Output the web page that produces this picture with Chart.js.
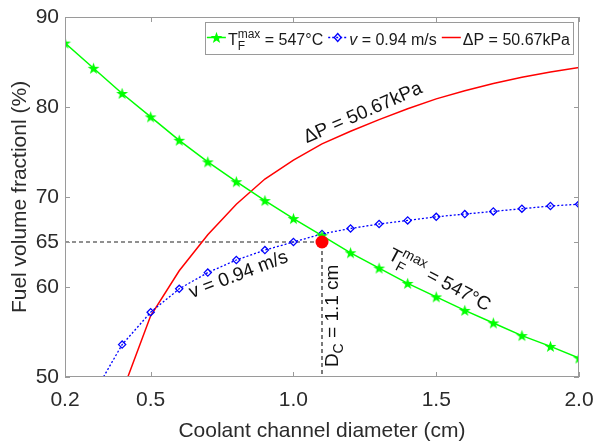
<!DOCTYPE html>
<html>
<head>
<meta charset="utf-8">
<script src="https://cdn.jsdelivr.net/npm/chart.js@4.4.0/dist/chart.umd.min.js"></script>
<style>
    html, body { margin: 0; padding: 0; background: #fff; }
</style>
</head>
<body>
<canvas id="fuelChart" width="595" height="444"></canvas>
<script>
// Datos
const diameters = [0.2, 0.3, 0.4, 0.5, 0.6, 0.7, 0.8, 0.9, 1.0, 1.1, 1.2, 1.3, 1.4, 1.5, 1.6, 1.7, 1.8, 1.9, 2.0];
const tempFrac = [87.1, 84.3, 81.5, 78.9, 76.3, 73.9, 71.7, 69.6, 67.6, 65.7, 63.8, 62.1, 60.4, 58.9, 57.4, 56.0, 54.6, 53.4, 52.1];

const velDiam = [0.3, 0.4, 0.5, 0.6, 0.7, 0.8, 0.9, 1.0, 1.1, 1.2, 1.3, 1.4, 1.5, 1.6, 1.7, 1.8, 1.9, 2.0];
const velFrac = [48.1, 53.6, 57.2, 59.8, 61.6, 63.0, 64.1, 65.0, 65.9, 66.5, 67.0, 67.4, 67.8, 68.1, 68.4, 68.7, 69.0, 69.2];

const dpDiam = [0.4, 0.5, 0.6, 0.7, 0.8, 0.9, 1.0, 1.1, 1.2, 1.3, 1.4, 1.5, 1.6, 1.7, 1.8, 1.9, 2.0];
const dpFrac = [48.3, 56.8, 61.8, 65.8, 69.2, 72.0, 74.1, 75.9, 77.3, 78.6, 79.8, 80.9, 81.8, 82.6, 83.3, 83.9, 84.4];

// punto de diseño y líneas guía
const refX = [0.2, 1.1, 1.1];
const refY = [65, 65, 50];
const designX = [1.1];
const designY = [65];

const xTicks = [0.2, 0.5, 1.0, 1.5, 2.0];
const yTicks = [50, 60, 65, 70, 80, 90];

const FONT = '"Liberation Sans", Arial, Helvetica, sans-serif';
const TXT = '#2b2b2b';
const FRAME = '#9a9a9a';

function pts(xs, ys) {
    return xs.map((x, i) => ({ x: x, y: ys[i] }));
}

// estrella rellena estilo MATLAB (pentagram)
function makeStar(size, color) {
    const c = document.createElement('canvas');
    c.width = c.height = size;
    const g = c.getContext('2d');
    const cx = size / 2, cy = size / 2 + 0.5;
    const R = size / 2 - 0.3, r = R * 0.4;
    g.beginPath();
    for (let i = 0; i < 10; i++) {
        const a = -Math.PI / 2 + i * Math.PI / 5;
        const rad = i % 2 === 0 ? R : r;
        g.lineTo(cx + rad * Math.cos(a), cy + rad * Math.sin(a));
    }
    g.closePath();
    g.fillStyle = color;
    g.fill();
    return c;
}
const starImg = makeStar(13, '#00ff00');

// texto con sub/superíndices
function richText(ctx, x, y, angle, parts, draw) {
    ctx.save();
    ctx.translate(x, y);
    ctx.rotate(angle);
    ctx.textAlign = 'left';
    ctx.textBaseline = 'alphabetic';
    let cx = 0, pend = 0;
    parts.forEach(p => {
        ctx.font = (p.italic ? 'italic ' : '') + p.s + 'px ' + FONT;
        if (draw) ctx.fillText(p.t, cx, p.dy || 0);
        const w = ctx.measureText(p.t).width;
        if (p.stack) {
            pend = w;
        } else {
            cx += Math.max(w, pend);
            pend = 0;
        }
    });
    ctx.restore();
    return cx;
}

const overlay = {
    id: 'overlay',
    afterDatasetsDraw(chart) {
        const ctx = chart.ctx;
        const a = chart.chartArea;
        const sx = chart.scales.x, sy = chart.scales.y;

        // marco y marcas hacia dentro
        ctx.save();
        ctx.strokeStyle = FRAME;
        ctx.lineWidth = 1;
        ctx.strokeRect(a.left + 0.5, a.top + 0.5, a.right - a.left - 1, a.bottom - a.top - 1);
        ctx.beginPath();
        xTicks.forEach(v => {
            const px = Math.round(sx.getPixelForValue(v)) + 0.5;
            ctx.moveTo(px, a.bottom); ctx.lineTo(px, a.bottom - 5);
            ctx.moveTo(px, a.top); ctx.lineTo(px, a.top + 5);
        });
        yTicks.forEach(v => {
            const py = Math.round(sy.getPixelForValue(v)) + 0.5;
            ctx.moveTo(a.left, py); ctx.lineTo(a.left + 5, py);
            ctx.moveTo(a.right, py); ctx.lineTo(a.right - 5, py);
        });
        ctx.stroke();
        ctx.restore();

        // anotaciones sobre las curvas
        ctx.save();
        ctx.fillStyle = '#111111';
        const deg = Math.PI / 180;
        richText(ctx, sx.getPixelForValue(1.047), sy.getPixelForValue(75.97), -23.6 * deg,
            [{ t: '\u0394P = 50.67kPa', s: 19 }], true);
        richText(ctx, sx.getPixelForValue(0.644), sy.getPixelForValue(58.74), -20.8 * deg,
            [{ t: 'v = 0.94 m/s', s: 19 }], true);
        richText(ctx, sx.getPixelForValue(1.328), sy.getPixelForValue(63.16), 28 * deg,
            [{ t: 'T', s: 19 }, { t: 'max', s: 14, dy: -9, stack: true }, { t: 'F', s: 14, dy: 6 },
             { t: ' = 547\u00B0C', s: 19 }], true);
        richText(ctx, sx.getPixelForValue(1.156), sy.getPixelForValue(51.1), -90 * deg,
            [{ t: 'D', s: 19 }, { t: 'C', s: 14, dy: 5 }, { t: ' = 1.1 cm', s: 19 }], true);
        ctx.restore();

        // leyenda
        const items = [
            { color: '#00ff00', dash: [], marker: 'star', parts: [{ t: 'T', s: 16 }, { t: 'max', s: 12, dy: -7, stack: true }, { t: 'F', s: 12, dy: 5 }, { t: ' = 547\u00B0C', s: 16 }] },
            { color: '#0000ff', dash: [2, 2], marker: 'diamond', parts: [{ t: 'v', s: 16, italic: true }, { t: ' = 0.94 m/s', s: 16 }] },
            { color: '#ff0000', dash: [], marker: null, parts: [{ t: '\u0394P = 50.67kPa', s: 16 }] }
        ];
        const lineLen = 19, gapAfterLine = 2, gapItem = 5, padL = 2, padR = 3;
        items.forEach(it => { it.w = richText(ctx, 0, 0, 0, it.parts, false); });
        let boxW = padL + padR;
        items.forEach((it, i) => { boxW += lineLen + gapAfterLine + it.w + (i > 0 ? gapItem : 0); });
        const boxH = 32;
        const bx = a.right - 6 - boxW, by = a.top + 5;
        ctx.save();
        ctx.fillStyle = '#ffffff';
        ctx.fillRect(bx, by, boxW, boxH);
        ctx.strokeStyle = FRAME;
        ctx.lineWidth = 1;
        ctx.strokeRect(Math.round(bx) + 0.5, by + 0.5, Math.round(boxW), boxH);
        const ly = by + 15.5;
        let cx = bx + padL;
        items.forEach((it, i) => {
            if (i > 0) cx += gapItem;
            ctx.strokeStyle = it.color;
            ctx.lineWidth = 1.5;
            ctx.setLineDash(it.dash);
            ctx.beginPath();
            ctx.moveTo(cx, ly); ctx.lineTo(cx + lineLen, ly);
            ctx.stroke();
            ctx.setLineDash([]);
            const mx = cx + lineLen / 2;
            if (it.marker === 'star') {
                ctx.drawImage(starImg, Math.round(mx - 6.5), Math.round(ly - 6.5));
            } else if (it.marker === 'diamond') {
                ctx.lineWidth = 1.3;
                ctx.beginPath();
                ctx.moveTo(mx, ly - 4); ctx.lineTo(mx + 3.5, ly); ctx.lineTo(mx, ly + 4); ctx.lineTo(mx - 3.5, ly);
                ctx.closePath();
                ctx.stroke();
            }
            cx += lineLen + gapAfterLine;
            ctx.fillStyle = '#1a1a1a';
            richText(ctx, cx, by + 23, 0, it.parts, true);
            cx += it.w;
        });
        ctx.restore();
    }
};

const ctx = document.getElementById('fuelChart').getContext('2d');
const fuelChart = new Chart(ctx, {
    type: 'line',
    data: {
        datasets: [{
            label: 'Diseño',
            data: pts(designX, designY),
            showLine: false,
            pointRadius: 6.5,
            pointBackgroundColor: '#ff0000',
            pointBorderWidth: 0,
            order: 0
        }, {
            label: 'T max',
            data: pts(diameters, tempFrac),
            borderColor: '#00ff00',
            borderWidth: 1.5,
            pointStyle: starImg,
            order: 1
        }, {
            label: 'v',
            data: pts(velDiam, velFrac),
            borderColor: '#0000ff',
            borderWidth: 1.3,
            borderDash: [2, 2],
            pointStyle: 'rectRot',
            pointRadius: 3.6,
            pointBorderColor: '#0000ff',
            pointBackgroundColor: 'rgba(0,0,0,0)',
            pointBorderWidth: 1.3,
            order: 2
        }, {
            label: 'dP',
            data: pts(dpDiam, dpFrac),
            borderColor: '#ff0000',
            borderWidth: 1.5,
            pointRadius: 0,
            order: 3
        }, {
            label: 'ref',
            data: pts(refX, refY),
            borderColor: '#222222',
            borderWidth: 1.2,
            borderDash: [4, 3],
            pointRadius: 0,
            order: 4
        }]
    },
    options: {
        responsive: false,
        animation: false,
        devicePixelRatio: 1,
        layout: { padding: { top: 17, right: 16, left: 0, bottom: 0 } },
        plugins: {
            legend: { display: false },
            tooltip: { enabled: false }
        },
        elements: { line: { tension: 0, fill: false } },
        scales: {
            x: {
                type: 'linear',
                min: 0.2,
                max: 2.0,
                afterBuildTicks: s => { s.ticks = xTicks.map(v => ({ value: v })); },
                afterFit: s => { s.height = 67; s.paddingLeft = 0; s.paddingRight = 0; },
                grid: { display: false, drawTicks: false },
                border: { display: false },
                ticks: {
                    font: { family: FONT, size: 21 },
                    color: TXT,
                    padding: 11,
                    maxRotation: 0,
                    autoSkip: false,
                    callback: v => Number(v).toFixed(1)
                },
                title: {
                    display: true,
                    text: 'Coolant channel diameter (cm)',
                    font: { family: FONT, size: 21 },
                    color: TXT,
                    padding: { top: 0, bottom: 0 }
                }
            },
            y: {
                type: 'linear',
                min: 50,
                max: 90,
                afterBuildTicks: s => { s.ticks = yTicks.map(v => ({ value: v })); },
                afterFit: s => { s.width = 65; s.paddingTop = 0; s.paddingBottom = 0; },
                grid: { display: false, drawTicks: false },
                border: { display: false },
                ticks: {
                    font: { family: FONT, size: 21 },
                    color: TXT,
                    padding: 6,
                    autoSkip: false
                },
                title: {
                    display: true,
                    text: 'Fuel volume fractionl (%)',
                    font: { family: FONT, size: 21 },
                    color: TXT,
                    padding: { top: 8, bottom: 0 }
                }
            }
        }
    },
    plugins: [overlay]
});
</script>
</body>
</html>
